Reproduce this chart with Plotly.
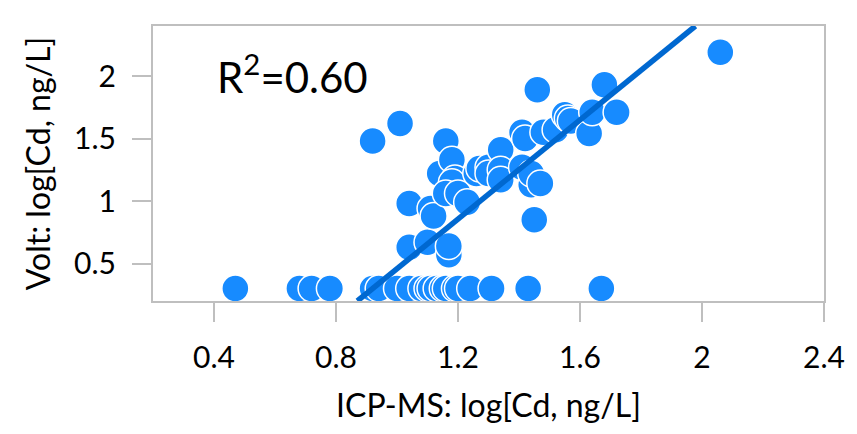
import plotly.graph_objects as go

# Upper scatter points (ICP-MS log Cd, Volt log Cd)
icp_upper = [0.92, 1.01, 1.04, 1.04, 1.10, 1.11, 1.12, 1.16, 1.14, 1.18,
             1.19, 1.18, 1.16, 1.20, 1.23, 1.17, 1.17, 1.26, 1.27, 1.30,
             1.30, 1.34, 1.34, 1.34, 1.41, 1.42, 1.41, 1.44, 1.44, 1.47,
             1.45, 1.46, 1.48, 1.52, 1.55, 1.56, 1.57, 1.63, 1.64, 1.68,
             1.72, 2.06]
volt_upper = [1.48, 1.62, 0.98, 0.63, 0.67, 0.94, 0.88, 1.48, 1.22, 1.33,
              1.18, 1.15, 1.06, 1.06, 0.99, 0.57, 0.64, 1.22, 1.26, 1.27,
              1.22, 1.41, 1.25, 1.17, 1.55, 1.50, 1.27, 1.13, 1.22, 1.14,
              0.85, 1.89, 1.55, 1.57, 1.69, 1.66, 1.64, 1.54, 1.71, 1.93,
              1.71, 2.19]

# Points at the voltammetric detection floor
icp_floor = [0.47, 0.68, 0.72, 0.78, 0.92, 0.94, 1.00, 1.04, 1.08, 1.10,
             1.11, 1.13, 1.15, 1.16, 1.19, 1.20, 1.24, 1.31, 1.43, 1.67]
volt_floor = [0.30] * len(icp_floor)

# Linear trendline parameters
trend_slope = 1.985
trend_intercept = -1.527
r2_label = "R<sup>2</sup>=0.60"

x_range = [0.2, 2.4]
y_range = [0.2, 2.4]
x_ticks = [0.4, 0.8, 1.2, 1.6, 2.0, 2.4]
x_tick_text = ["0.4", "0.8", "1.2", "1.6", "2", "2.4"]
y_ticks = [0.5, 1.0, 1.5, 2.0]
y_tick_text = ["0.5", "1", "1.5", "2"]

FONT = "Lato"
MARKER = "#178BFF"
LINE = "#0068D0"
AXIS = "#BFBFBF"

xs = icp_floor + icp_upper
ys = volt_floor + volt_upper

# trendline clipped to the plot range
tx0 = (y_range[0] - trend_intercept) / trend_slope
tx1 = (y_range[1] - trend_intercept) / trend_slope
tx = [tx0, tx1]
ty = [trend_slope * v + trend_intercept for v in tx]

fig = go.Figure()
fig.add_trace(go.Scatter(
    x=xs, y=ys, mode="markers",
    marker=dict(size=27, color=MARKER, line=dict(color="white", width=1.5)),
    showlegend=False, cliponaxis=False,
))
fig.add_trace(go.Scatter(
    x=tx, y=ty, mode="lines",
    line=dict(color=LINE, width=5.5),
    showlegend=False,
))

fig.add_annotation(
    x=0.403, y=2.02, xref="x", yref="y", text=r2_label,
    showarrow=False, xanchor="left", yanchor="middle",
    font=dict(family=FONT, size=42, color="black"),
)

axis_common = dict(
    showline=True, linecolor=AXIS, linewidth=2, mirror=True,
    ticks="outside", ticklen=19, tickwidth=2, tickcolor=AXIS,
    showgrid=False, zeroline=False,
    tickfont=dict(family=FONT, size=30, color="black"),
)

fig.update_layout(
    width=857, height=434,
    margin=dict(l=153, r=25, t=26, b=133),
    paper_bgcolor="white", plot_bgcolor="white",
    font=dict(family=FONT, color="black"),
    xaxis=dict(range=x_range, tickvals=x_ticks, ticktext=x_tick_text,
               ticklabelstandoff=10,
               title=dict(text="ICP-MS: log[Cd, ng/L]",
                          font=dict(family=FONT, size=32), standoff=22),
               **axis_common),
    yaxis=dict(range=y_range, tickvals=y_ticks, ticktext=y_tick_text,
               ticklabelstandoff=10,
               title=dict(text="Volt: log[Cd, ng/L]",
                          font=dict(family=FONT, size=32), standoff=14),
               **axis_common),
)

fig.write_html("out.html")
